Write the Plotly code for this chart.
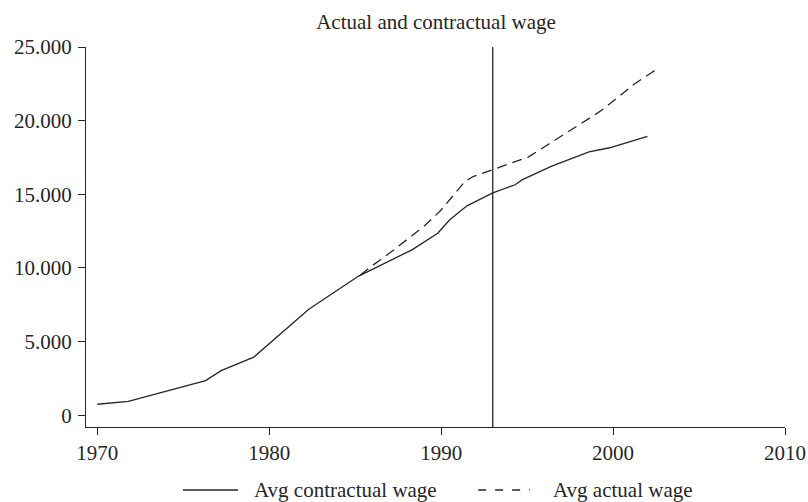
import plotly.graph_objects as go

# Data
contract_years = [1970.0, 1971.8, 1976.3, 1977.2, 1979.1, 1982.3, 1985.2, 1988.3, 1989.8,
                  1990.5, 1991.5, 1993.0, 1994.3, 1994.7, 1996.4, 1998.6, 1999.8, 2002.0]
contract_wage = [750, 950, 2350, 3030, 3950, 7200, 9450, 11230, 12360,
                 13270, 14220, 15100, 15650, 15980, 16890, 17880, 18160, 18930]

actual_years = [1985.3, 1986.05, 1987.12, 1988.08, 1989.05, 1989.97, 1990.74, 1991.38, 1991.86,
                1993.0, 1994.0, 1995.06, 1996.13, 1997.19, 1998.26, 1999.27, 2000.23, 2001.2,
                2002.25, 2002.6]
actual_wage = [9530, 10210, 11114, 12024, 12880, 13899, 14965, 15869, 16208,
               16663, 17071, 17526, 18314, 19109, 19904, 20650, 21534, 22458,
               23273, 23550]

break_year = 1993

x_tickvals = [1970, 1980, 1990, 2000, 2010]
x_ticktext = ["1970", "1980", "1990", "2000", "2010"]
y_tickvals = [0, 5000, 10000, 15000, 20000, 25000]
y_ticktext = ["0", "5.000", "10.000", "15.000", "20.000", "25.000"]

series_names = ["Avg contractual wage", "Avg actual wage"]
title_text = "Actual and contractual wage"

FONT = "Liberation Serif, Times New Roman, serif"
FS = 21
INK = "#262626"

W, H = 808, 502

fig = go.Figure()
fig.add_trace(go.Scatter(x=contract_years, y=contract_wage, mode="lines",
                         line=dict(color=INK, width=1.3), name=series_names[0],
                         showlegend=False))
fig.add_trace(go.Scatter(x=actual_years, y=actual_wage, mode="lines",
                         line=dict(color=INK, width=1.3, dash="10px,6px"), name=series_names[1],
                         showlegend=False))

fig.add_shape(type="line", xref="x", yref="paper", x0=break_year, x1=break_year, y0=0, y1=1,
              line=dict(color=INK, width=1.3))

# Manual legend (paper coordinates)
leg_y = -0.1658
fig.add_shape(type="line", xref="paper", yref="paper", x0=0.1388, x1=0.2175, y0=leg_y, y1=leg_y,
              line=dict(color=INK, width=1.3))
fig.add_shape(type="line", xref="paper", yref="paper", x0=0.561, x1=0.635, y0=leg_y, y1=leg_y,
              line=dict(color=INK, width=1.3, dash="8px,9px"))
fig.add_annotation(xref="paper", yref="paper", x=0.2375, y=leg_y, text=series_names[0],
                   showarrow=False, xanchor="left", yanchor="middle",
                   font=dict(family=FONT, size=FS, color=INK))
fig.add_annotation(xref="paper", yref="paper", x=0.665, y=leg_y, text=series_names[1],
                   showarrow=False, xanchor="left", yanchor="middle",
                   font=dict(family=FONT, size=FS, color=INK))

fig.update_layout(
    width=W, height=H,
    margin=dict(l=86, r=23, t=47, b=75, autoexpand=False),
    paper_bgcolor="white", plot_bgcolor="white",
    font=dict(family=FONT, size=FS, color=INK),
    title=dict(text=title_text, x=436 / W, xanchor="center", y=1 - 22 / H, yanchor="middle",
               yref="container", font=dict(family=FONT, size=FS, color=INK)),
    showlegend=False,
    hovermode=False,
    xaxis=dict(range=[1969.34, 2010], tickvals=x_tickvals, ticktext=x_ticktext,
               showgrid=False, zeroline=False, showline=True, linecolor=INK, linewidth=1.3,
               ticks="outside", ticklen=7, tickcolor=INK, tickwidth=1.3,
               automargin=False, ticklabelstandoff=0,
               tickfont=dict(family=FONT, size=FS, color=INK)),
    yaxis=dict(range=[-795, 25000], tickvals=y_tickvals, ticktext=y_ticktext,
               showgrid=False, zeroline=False, showline=True, linecolor=INK, linewidth=1.3,
               ticks="outside", ticklen=7, tickcolor=INK, tickwidth=1.3,
               automargin=False, ticklabelstandoff=2,
               tickfont=dict(family=FONT, size=FS, color=INK)),
)

fig.write_html("out.html",
               config={"displayModeBar": False},
               post_script="document.body.style.margin='0';document.body.style.overflow='hidden';")
